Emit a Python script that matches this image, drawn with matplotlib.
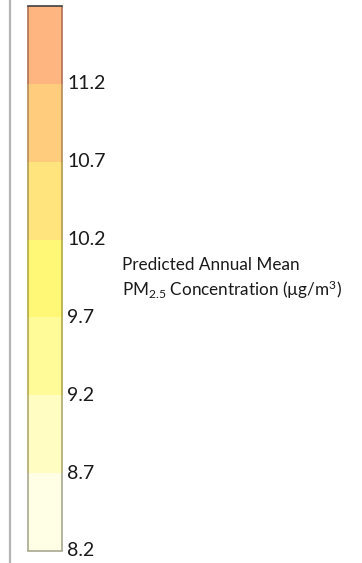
import matplotlib
matplotlib.use("Agg")
import matplotlib.pyplot as plt
from matplotlib.lines import Line2D
from matplotlib.transforms import ScaledTranslation
import numpy as np

plt.rcParams['font.family'] = ['Lato', 'DejaVu Sans']
plt.rcParams['mathtext.fontset'] = 'custom'
plt.rcParams['mathtext.rm'] = 'Lato'
plt.rcParams['mathtext.it'] = 'Lato:italic'

# Class breaks for the legend (µg/m³) and their fill colours
bounds = [8.2, 8.7, 9.2, 9.7, 10.2, 10.7, 11.2, 11.7]
tick_labels = ["8.2", "8.7", "9.2", "9.7", "10.2", "10.7", "11.2"]
colors = ["#FFFFE6", "#FFFDC2", "#FFFB99", "#FFF876", "#FFE37C", "#FFCC7D", "#FFB580"]
edge_colors = ["#A8A890", "#B0AA70", "#B4A850", "#B4A840", "#B49A50", "#B48A55", "#B07050"]

W, H = 362, 563
fig = plt.figure(figsize=(W / 100, H / 100), dpi=100)
fig.patch.set_facecolor("white")

# Gray divider on the left edge
fig.add_artist(Line2D([10 / W, 10 / W], [0, 1], color="#B4B4B4", lw=1.6))

ax = fig.add_axes([28 / W, (H - 551) / H, 34 / W, 545 / H])
lows = np.array(bounds[:-1])
heights = np.diff(bounds)
ax.bar(0, heights, bottom=lows, width=1, color=colors, edgecolor="none")
for lo, h, ec in zip(lows, heights, edge_colors):
    ax.plot([-0.5, -0.5], [lo, lo + h], color=ec, lw=1.2, solid_capstyle="butt", clip_on=False)
    ax.plot([0.5, 0.5], [lo, lo + h], color=ec, lw=1.2, solid_capstyle="butt", clip_on=False)
ax.plot([-0.5, 0.5], [bounds[0], bounds[0]], color=edge_colors[0], lw=1.2, clip_on=False)
ax.plot([-0.5, 0.5], [bounds[-1], bounds[-1]], color="#404040", lw=1.2, clip_on=False)
ax.set_xlim(-0.5, 0.5)
ax.set_ylim(bounds[0], bounds[-1])
for s in ax.spines.values():
    s.set_visible(False)
ax.set_xticks([])
ax.set_yticks([])

offset = ax.transData + ScaledTranslation(5 / 100, 0, fig.dpi_scale_trans)
for b, lab in zip(bounds[:-1], tick_labels):
    ax.text(0.5, b, lab, transform=offset, fontsize=14,
            ha="left", va="center", color="#1a1a1a")

fig.text(122 / W, 1 - 265 / H, "Predicted Annual Mean", fontsize=12.3,
         ha="left", va="center", color="#1a1a1a")
fig.text(122 / W, 1 - 290 / H, r"PM$_{2.5}$ Concentration (µg/m$^{3}$)", fontsize=12.3,
         ha="left", va="center", color="#1a1a1a")

fig.savefig("out.png", dpi=100, facecolor="white")
